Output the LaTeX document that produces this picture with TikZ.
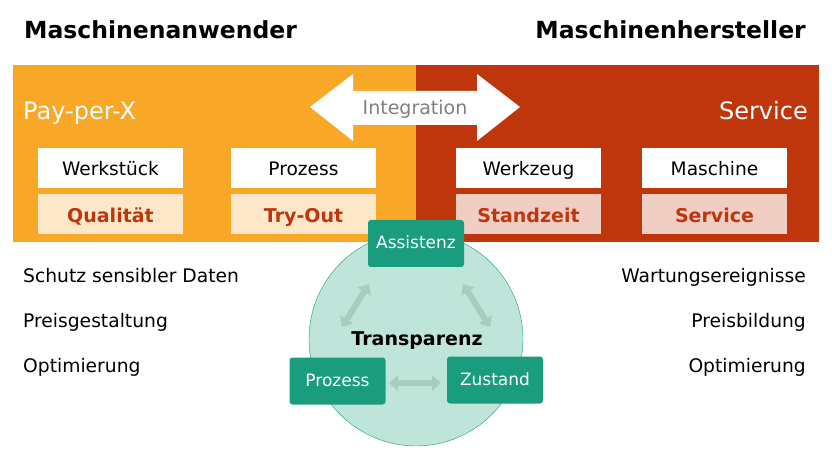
\documentclass[tikz,border=0pt]{standalone}
\usepackage{fontspec}
\setmainfont{DejaVu Sans}
\usetikzlibrary{arrows.meta,positioning}
\definecolor{anwOrange}{RGB}{248,168,38}
\definecolor{herRed}{RGB}{191,54,12}
\definecolor{anwLight}{RGB}{253,231,201}
\definecolor{herLight}{RGB}{240,206,196}
\definecolor{trTeal}{RGB}{26,157,126}
\definecolor{trFill}{RGB}{191,228,218}
\definecolor{trArrow}{RGB}{169,205,189}
\tikzset{
  txt/.style={font=\fontsize{18.7}{20}\selectfont, inner sep=0pt},
  head/.style={font=\bfseries\fontsize{23.5}{25}\selectfont, inner sep=0pt},
  wbox/.style={fill=white, minimum width=145pt, minimum height=40pt, inner sep=0pt,
    text height=18pt, text depth=2pt, font=\fontsize{18.6}{20}\selectfont},
  obox/.style={wbox, fill=anwLight, text=herRed, font=\bfseries\fontsize{19}{20}\selectfont},
  rbox/.style={obox, fill=herLight},
  tbox/.style={fill=trTeal, text=white, rounded corners=3pt, minimum width=96pt, minimum height=47pt,
    inner sep=0pt, text height=13pt, text depth=2pt, font=\fontsize{17}{19}\selectfont},
  cyc/.style={trArrow, line width=6pt, {Triangle[width=15pt,length=9pt]}-{Triangle[width=15pt,length=9pt]}}
}
\begin{document}
\begin{tikzpicture}[x=1pt,y=-1pt]
	\useasboundingbox (0,0) rectangle (832,454);
	% Titel
	\node[head, anchor=base west] (anw) at (24,39) {Maschinenanwender};
	\node[head, anchor=base east] (her) at (806,39) {Maschinenhersteller};
	% Hintergrund
	\fill[anwOrange] (13,65) rectangle (416,242);
	\fill[herRed] (416,65) rectangle (819,242);
	\node[txt, text=white, anchor=base west, font=\fontsize{24}{26}\selectfont] (ppx) at (23,120) {Pay-per-X};
	\node[txt, text=white, anchor=base east, font=\fontsize{24}{26}\selectfont] (srv) at (808,120) {Service};
	% Integration
	\fill[white] (310,107) -- (353,74) -- (353,91) -- (477,91) -- (477,74) -- (520,107)
		-- (477,141) -- (477,125) -- (353,125) -- (353,141) -- cycle;
	\node[txt, text=gray, anchor=base, font=\fontsize{19}{20}\selectfont] (int) at (415,115) {Integration};
	% Kaesten
	\node[wbox] (werkst) at (110.5,168) {Werkstück};
	\node[obox, below=6pt of werkst] (qual) {Qualität};
	\node[wbox] (proz1) at (303.5,168) {Prozess};
	\node[obox, below=6pt of proz1] (try) {Try-Out};
	\node[wbox] (werkz) at (528.5,168) {Werkzeug};
	\node[rbox, below=6pt of werkz] (stand) {Standzeit};
	\node[wbox] (masch) at (714.5,168) {Maschine};
	\node[rbox, below=6pt of masch] (serv) {Service};
	% Transparenz
	\draw[trTeal, fill=trFill, thin] (416,339) circle (107);
	\node[anchor=base, font=\bfseries\fontsize{19}{20}\selectfont, inner sep=0pt] (transp) at (417,345) {Transparenz};
	\node[tbox] (ass) at (416,243.5) {Assistenz};
	\node[tbox] (proz2) at (337.5,381) {Prozess};
	\node[tbox] (zust) at (495,380) {Zustand};
	\coordinate (l1) at (342,327); \coordinate (l2) at (369,284);
	\coordinate (r1) at (463,284); \coordinate (r2) at (490,327);
	\coordinate (b1) at (389,383); \coordinate (b2) at (441,383);
	\draw[cyc] (l1) -- (l2);
	\draw[cyc] (r1) -- (r2);
	\draw[cyc] (b1) -- (b2);
	% Listen
	\node[txt, anchor=base west] (schutz) at (23,282) {Schutz sensibler Daten};
	\node[txt, anchor=base west] (preisg) at (23,327) {Preisgestaltung};
	\node[txt, anchor=base west] (optl) at (23,372) {Optimierung};
	\node[txt, anchor=base east] (wart) at (806,282) {Wartungsereignisse};
	\node[txt, anchor=base east] (preisb) at (806,327) {Preisbildung};
	\node[txt, anchor=base east] (optr) at (806,372) {Optimierung};
\end{tikzpicture}
\end{document}
